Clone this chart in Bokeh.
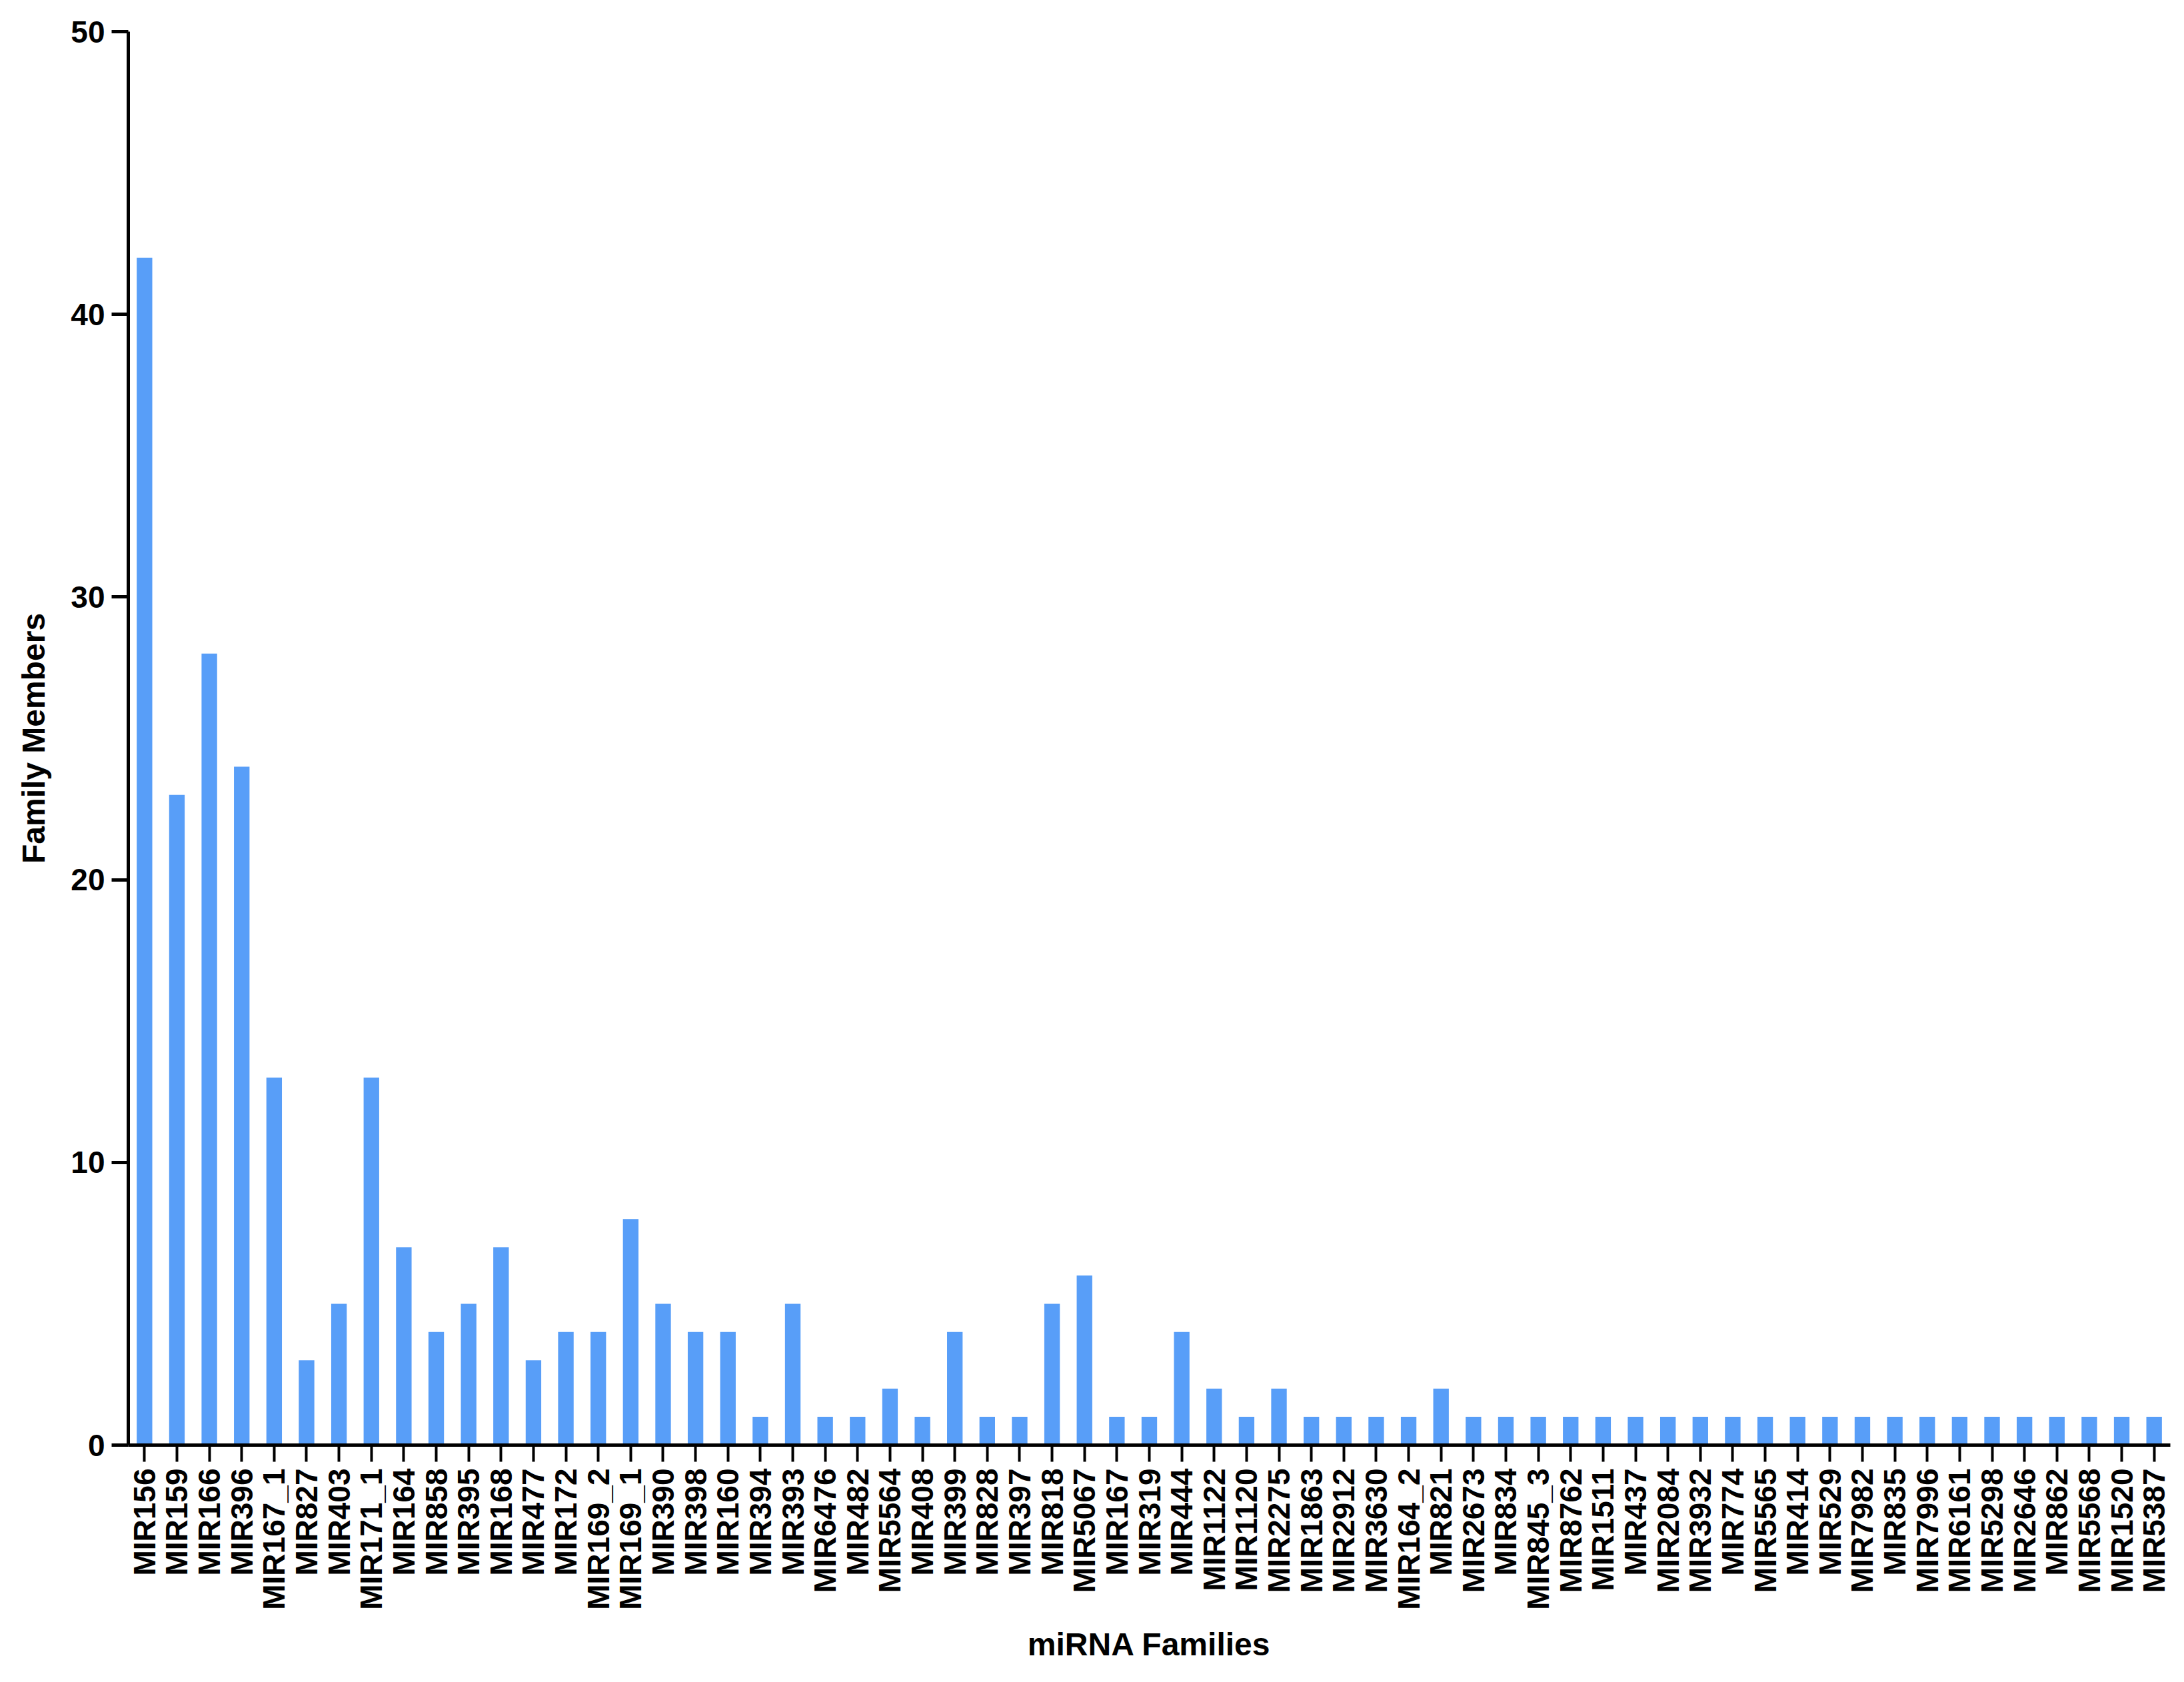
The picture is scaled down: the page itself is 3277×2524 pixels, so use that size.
import math
from bokeh.plotting import figure
from bokeh.models import ColumnDataSource, FixedTicker
from bokeh.embed import file_html
from bokeh.resources import INLINE

families = ["MIR156", "MIR159", "MIR166", "MIR396", "MIR167_1", "MIR827", "MIR403",
            "MIR171_1", "MIR164", "MIR858", "MIR395", "MIR168", "MIR477", "MIR172",
            "MIR169_2", "MIR169_1", "MIR390", "MIR398", "MIR160", "MIR394", "MIR393",
            "MIR6476", "MIR482", "MIR5564", "MIR408", "MIR399", "MIR828", "MIR397",
            "MIR818", "MIR5067", "MIR167", "MIR319", "MIR444", "MIR1122", "MIR1120",
            "MIR2275", "MIR1863", "MIR2912", "MIR3630", "MIR164_2", "MIR821", "MIR2673",
            "MIR834", "MIR845_3", "MIR8762", "MIR1511", "MIR437", "MIR2084", "MIR3932",
            "MIR774", "MIR5565", "MIR414", "MIR529", "MIR7982", "MIR835", "MIR7996",
            "MIR6161", "MIR5298", "MIR2646", "MIR862", "MIR5568", "MIR1520", "MIR5387"]
members = [42, 23, 28, 24, 13, 3, 5,
           13, 7, 4, 5, 7, 3, 4,
           4, 8, 5, 4, 4, 1, 5,
           1, 1, 2, 1, 4, 1, 1,
           5, 6, 1, 1, 4, 2, 1,
           2, 1, 1, 1, 1, 2, 1,
           1, 1, 1, 1, 1, 1, 1,
           1, 1, 1, 1, 1, 1, 1,
           1, 1, 1, 1, 1, 1, 1]
y_ticks = [0, 10, 20, 30, 40, 50]

src = ColumnDataSource(dict(fam=families, n=members))

p = figure(x_range=families, y_range=(0, 50), width=3261, height=2508,
           output_backend="svg", toolbar_location=None,
           min_border_left=192, min_border_right=5, min_border_top=47,
           min_border_bottom=340)
p.x_range.range_padding = 0

p.vbar(x="fam", top="n", width=0.48, source=src, color="#589EF8", line_color=None)

FONT = "Liberation Sans"
p.outline_line_color = None
p.xgrid.grid_line_color = None
p.ygrid.grid_line_color = None
p.background_fill_color = "white"

p.yaxis.ticker = FixedTicker(ticks=y_ticks)
p.yaxis.minor_tick_line_color = None
p.yaxis.major_tick_out = 25
p.yaxis.major_tick_in = 0
p.yaxis.major_tick_line_width = 5
p.yaxis.axis_line_width = 5
p.yaxis.major_label_text_font = FONT
p.yaxis.major_label_text_font_style = "bold"
p.yaxis.major_label_text_font_size = "46px"
p.yaxis.major_label_text_color = "black"
p.yaxis.major_label_standoff = 10
p.yaxis.axis_label = "Family Members"
p.yaxis.axis_label_text_font = FONT
p.yaxis.axis_label_text_font_style = "bold"
p.yaxis.axis_label_text_font_size = "48px"
p.yaxis.axis_label_text_color = "black"
p.yaxis.axis_label_standoff = 26

p.xaxis.major_tick_out = 25
p.xaxis.major_tick_in = 0
p.xaxis.major_tick_line_width = 4
p.xaxis.axis_line_width = 5
p.xaxis.major_label_orientation = math.pi / 2
p.xaxis.major_label_text_font = FONT
p.xaxis.major_label_text_font_style = "bold"
p.xaxis.major_label_text_font_size = "46px"
p.xaxis.major_label_text_color = "black"
p.xaxis.major_label_standoff = 10
p.xaxis.axis_label = "miRNA Families"
p.xaxis.axis_label_text_font = FONT
p.xaxis.axis_label_text_font_style = "bold"
p.xaxis.axis_label_text_font_size = "48px"
p.xaxis.axis_label_text_color = "black"
p.xaxis.axis_label_standoff = 22

open("out.html", "w").write(file_html(p, INLINE))
